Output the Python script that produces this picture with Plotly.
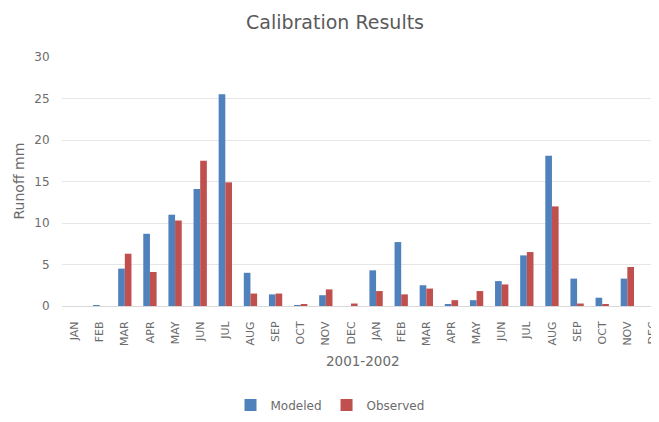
import plotly.graph_objects as go

months = ["JAN", "FEB", "MAR", "APR", "MAY", "JUN", "JUL", "AUG", "SEP", "OCT", "NOV", "DEC",
          "JAN", "FEB", "MAR", "APR", "MAY", "JUN", "JUL", "AUG", "SEP", "OCT", "NOV", "DEC"]
modeled = [0.0, 0.1, 4.5, 8.7, 11.0, 14.1, 25.5, 4.0, 1.4, 0.1, 1.3, 0.0,
           4.3, 7.7, 2.5, 0.2, 0.7, 3.0, 6.1, 18.1, 3.3, 1.0, 3.3, 0.0]
observed = [0.0, 0.0, 6.3, 4.1, 10.3, 17.5, 14.9, 1.5, 1.5, 0.2, 2.0, 0.3,
            1.8, 1.4, 2.1, 0.7, 1.8, 2.6, 6.5, 12.0, 0.3, 0.2, 4.7, 0.9]
y_ticks = [0, 5, 10, 15, 20, 25, 30]

x = list(range(len(months)))
font_family = "'DejaVu Sans', sans-serif"
grey = "#6b6b6b"

# page body has an 8px margin: design in figure coordinates (screen - 8)
L, R_px, T, B = 54, 651, 48.5, 298.5
W, H = 659, 422
pw, ph = R_px - L, B - T

fig = go.Figure()
fig.add_trace(go.Bar(x=x, y=modeled, name="Modeled", marker_color="#4F81BD",
                     marker_line_width=0))
fig.add_trace(go.Bar(x=x, y=observed, name="Observed", marker_color="#C0504D",
                     marker_line_width=0))

fig.update_layout(
    width=W, height=H, autosize=False,
    paper_bgcolor="white", plot_bgcolor="white",
    margin=dict(l=L, r=W - R_px, t=T, b=H - B),
    barmode="group", bargap=0.47, bargroupgap=0,
    font=dict(family=font_family, color=grey),
    title=dict(text="Calibration Results", x=327 / W, xanchor="center",
               y=1 - 14 / H, yanchor="middle",
               font=dict(size=19, color="#5a5a5a", family=font_family)),
    showlegend=True,
    legend=dict(orientation="h", x=(322 - L) / pw, xanchor="center",
                y=(B - 398) / ph, yanchor="middle",
                font=dict(size=12, color=grey), itemwidth=30,
                traceorder="normal"),
    xaxis=dict(range=[-0.5, 23.26], tickmode="array", tickvals=x, ticktext=months,
               tickangle=-90, tickfont=dict(size=11, color=grey),
               showgrid=False, showline=True, linecolor="#D9D9D9", linewidth=1,
               ticks="outside", ticklen=10, tickcolor="rgba(0,0,0,0)",
               zeroline=False),
    yaxis=dict(range=[0, 30], tickmode="array", tickvals=y_ticks,
               tickfont=dict(size=12, color=grey),
               showgrid=True, gridcolor="#E6E6E6", gridwidth=1,
               zeroline=False, showline=False, ticks="outside",
               ticklen=9, tickcolor="rgba(0,0,0,0)"),
    annotations=[
        dict(text="2001-2002", xref="paper", yref="paper",
             x=(355 - L) / pw, y=(B - 354) / ph,
             xanchor="center", yanchor="middle", showarrow=False,
             font=dict(size=13.5, color=grey)),
        dict(text="Runoff mm", xref="paper", yref="paper",
             x=(10 - L) / pw, y=0.5, textangle=-90,
             xanchor="center", yanchor="middle", showarrow=False,
             font=dict(size=14, color=grey)),
    ],
)

fig.write_html("out.html")
